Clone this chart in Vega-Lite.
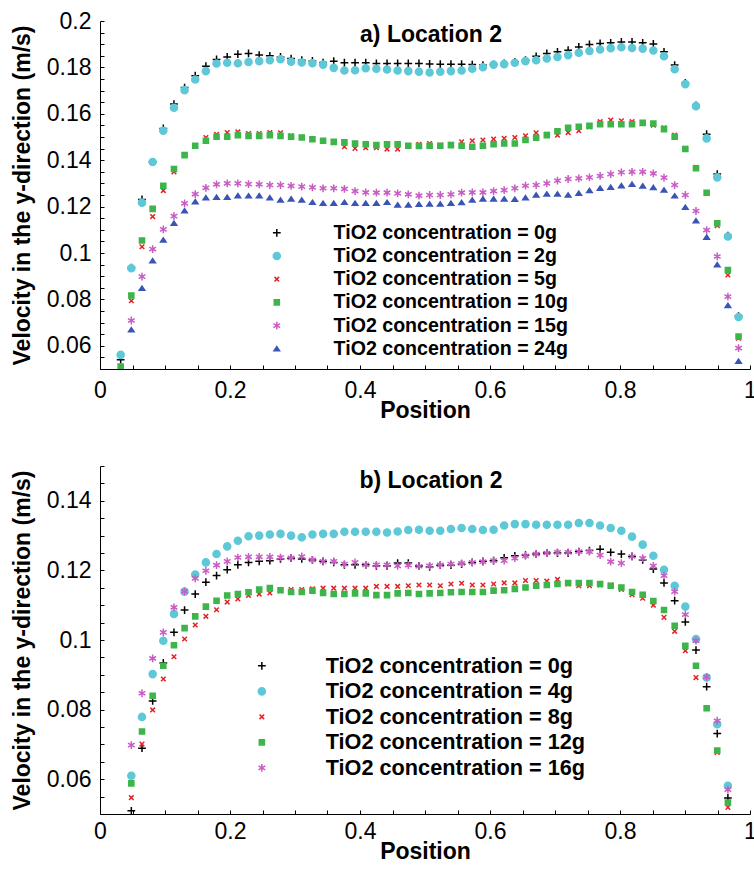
{
"$schema": "https://vega.github.io/schema/vega-lite/v6.json",
"background": "white",
"padding": {"left": 11, "top": 10, "right": 0, "bottom": 0},
"spacing": 33,
"config": {"view": {"stroke": null}, "font": "Liberation Sans",
 "axis": {"grid": false, "domainColor": "black", "domainWidth": 1, "tickColor": "black", "tickWidth": 1, "tickSize": -4, "labelColor": "black", "labelFontSize": 23, "labelFont": "Liberation Sans", "labelOverlap": false, "labelFlush": false, "titleColor": "black", "titleFontSize": 23, "titleFontWeight": "bold", "titleFont": "Liberation Sans"},
 "legend": {"orient": "none", "title": null, "labelFont": "Liberation Sans", "labelFontWeight": "bold", "labelColor": "black", "labelLimit": 500, "symbolStrokeWidth": 1.5, "symbolSize": 50, "padding": 0}
},
"resolve": {"scale": {"color": "independent", "shape": "independent", "stroke": "independent"}, "legend": {"color": "independent", "shape": "independent", "stroke": "independent"}},
"datasets": {
"a": [
{"c":"0g","x":0.0318,"v":0.054},{"c":"0g","x":0.0482,"v":0.0937},{"c":"0g","x":0.0646,"v":0.1231},{"c":"0g","x":0.081,"v":0.1393},{"c":"0g","x":0.0974,"v":0.1537},{"c":"0g","x":0.1138,"v":0.1642},{"c":"0g","x":0.1301,"v":0.1713},{"c":"0g","x":0.1465,"v":0.1764},{"c":"0g","x":0.1629,"v":0.1805},{"c":"0g","x":0.1793,"v":0.1834},{"c":"0g","x":0.1957,"v":0.1845},{"c":"0g","x":0.2121,"v":0.1857},{"c":"0g","x":0.2285,"v":0.186},{"c":"0g","x":0.2449,"v":0.1853},{"c":"0g","x":0.2613,"v":0.185},{"c":"0g","x":0.2777,"v":0.1845},{"c":"0g","x":0.294,"v":0.1838},{"c":"0g","x":0.3104,"v":0.1831},{"c":"0g","x":0.3268,"v":0.1828},{"c":"0g","x":0.3432,"v":0.1821},{"c":"0g","x":0.3596,"v":0.1827},{"c":"0g","x":0.376,"v":0.182},{"c":"0g","x":0.3924,"v":0.182},{"c":"0g","x":0.4088,"v":0.182},{"c":"0g","x":0.4252,"v":0.1817},{"c":"0g","x":0.4416,"v":0.1817},{"c":"0g","x":0.4579,"v":0.1817},{"c":"0g","x":0.4743,"v":0.1817},{"c":"0g","x":0.4907,"v":0.1817},{"c":"0g","x":0.5071,"v":0.1815},{"c":"0g","x":0.5235,"v":0.1814},{"c":"0g","x":0.5399,"v":0.1814},{"c":"0g","x":0.5563,"v":0.1814},{"c":"0g","x":0.5727,"v":0.1812},{"c":"0g","x":0.5891,"v":0.181},{"c":"0g","x":0.6055,"v":0.1812},{"c":"0g","x":0.6218,"v":0.1817},{"c":"0g","x":0.6382,"v":0.1824},{"c":"0g","x":0.6546,"v":0.1831},{"c":"0g","x":0.671,"v":0.1848},{"c":"0g","x":0.6874,"v":0.186},{"c":"0g","x":0.7038,"v":0.1867},{"c":"0g","x":0.7202,"v":0.1874},{"c":"0g","x":0.7366,"v":0.1888},{"c":"0g","x":0.753,"v":0.1899},{"c":"0g","x":0.7694,"v":0.1903},{"c":"0g","x":0.7857,"v":0.1906},{"c":"0g","x":0.8021,"v":0.191},{"c":"0g","x":0.8185,"v":0.191},{"c":"0g","x":0.8349,"v":0.1906},{"c":"0g","x":0.8513,"v":0.1901},{"c":"0g","x":0.8677,"v":0.1867},{"c":"0g","x":0.8841,"v":0.181},{"c":"0g","x":0.9005,"v":0.1733},{"c":"0g","x":0.9169,"v":0.1636},{"c":"0g","x":0.9333,"v":0.1512},{"c":"0g","x":0.9496,"v":0.134},{"c":"0g","x":0.966,"v":0.1075},{"c":"0g","x":0.9824,"v":0.0728},
{"c":"2g","x":0.0318,"v":0.0561},{"c":"2g","x":0.0482,"v":0.0934},{"c":"2g","x":0.0646,"v":0.1217},{"c":"2g","x":0.081,"v":0.1392},{"c":"2g","x":0.0974,"v":0.1527},{"c":"2g","x":0.1138,"v":0.1626},{"c":"2g","x":0.1301,"v":0.1702},{"c":"2g","x":0.1465,"v":0.1748},{"c":"2g","x":0.1629,"v":0.1784},{"c":"2g","x":0.1793,"v":0.1817},{"c":"2g","x":0.1957,"v":0.182},{"c":"2g","x":0.2121,"v":0.1818},{"c":"2g","x":0.2285,"v":0.1823},{"c":"2g","x":0.2449,"v":0.1827},{"c":"2g","x":0.2613,"v":0.1831},{"c":"2g","x":0.2777,"v":0.1835},{"c":"2g","x":0.294,"v":0.1824},{"c":"2g","x":0.3104,"v":0.1821},{"c":"2g","x":0.3268,"v":0.1818},{"c":"2g","x":0.3432,"v":0.1812},{"c":"2g","x":0.3596,"v":0.1798},{"c":"2g","x":0.376,"v":0.1787},{"c":"2g","x":0.3924,"v":0.1788},{"c":"2g","x":0.4088,"v":0.1796},{"c":"2g","x":0.4252,"v":0.1794},{"c":"2g","x":0.4416,"v":0.1791},{"c":"2g","x":0.4579,"v":0.1787},{"c":"2g","x":0.4743,"v":0.1784},{"c":"2g","x":0.4907,"v":0.1781},{"c":"2g","x":0.5071,"v":0.1778},{"c":"2g","x":0.5235,"v":0.1781},{"c":"2g","x":0.5399,"v":0.1784},{"c":"2g","x":0.5563,"v":0.1787},{"c":"2g","x":0.5727,"v":0.1794},{"c":"2g","x":0.5891,"v":0.1801},{"c":"2g","x":0.6055,"v":0.1812},{"c":"2g","x":0.6218,"v":0.1814},{"c":"2g","x":0.6382,"v":0.182},{"c":"2g","x":0.6546,"v":0.1827},{"c":"2g","x":0.671,"v":0.1831},{"c":"2g","x":0.6874,"v":0.1838},{"c":"2g","x":0.7038,"v":0.1845},{"c":"2g","x":0.7202,"v":0.1853},{"c":"2g","x":0.7366,"v":0.1863},{"c":"2g","x":0.753,"v":0.1871},{"c":"2g","x":0.7694,"v":0.1877},{"c":"2g","x":0.7857,"v":0.1883},{"c":"2g","x":0.8021,"v":0.1887},{"c":"2g","x":0.8185,"v":0.1884},{"c":"2g","x":0.8349,"v":0.1881},{"c":"2g","x":0.8513,"v":0.1873},{"c":"2g","x":0.8677,"v":0.1848},{"c":"2g","x":0.8841,"v":0.1792},{"c":"2g","x":0.9005,"v":0.1728},{"c":"2g","x":0.9169,"v":0.1633},{"c":"2g","x":0.9333,"v":0.1494},{"c":"2g","x":0.9496,"v":0.1326},{"c":"2g","x":0.966,"v":0.1071},{"c":"2g","x":0.9824,"v":0.0724},
{"c":"5g","x":0.0482,"v":0.0794},{"c":"5g","x":0.0646,"v":0.1027},{"c":"5g","x":0.081,"v":0.1157},{"c":"5g","x":0.0974,"v":0.1269},{"c":"5g","x":0.1138,"v":0.135},{"c":"5g","x":0.1301,"v":0.1422},{"c":"5g","x":0.1465,"v":0.1462},{"c":"5g","x":0.1629,"v":0.1498},{"c":"5g","x":0.1793,"v":0.1511},{"c":"5g","x":0.1957,"v":0.1519},{"c":"5g","x":0.2121,"v":0.1522},{"c":"5g","x":0.2285,"v":0.1515},{"c":"5g","x":0.2449,"v":0.1515},{"c":"5g","x":0.2613,"v":0.1519},{"c":"5g","x":0.2777,"v":0.1518},{"c":"5g","x":0.294,"v":0.1505},{"c":"5g","x":0.3104,"v":0.1498},{"c":"5g","x":0.3268,"v":0.1491},{"c":"5g","x":0.3432,"v":0.1484},{"c":"5g","x":0.3596,"v":0.1477},{"c":"5g","x":0.376,"v":0.1458},{"c":"5g","x":0.3924,"v":0.1451},{"c":"5g","x":0.4088,"v":0.1454},{"c":"5g","x":0.4252,"v":0.1454},{"c":"5g","x":0.4416,"v":0.1448},{"c":"5g","x":0.4579,"v":0.1448},{"c":"5g","x":0.4743,"v":0.1462},{"c":"5g","x":0.4907,"v":0.1468},{"c":"5g","x":0.5071,"v":0.1472},{"c":"5g","x":0.5235,"v":0.1465},{"c":"5g","x":0.5399,"v":0.1468},{"c":"5g","x":0.5563,"v":0.1479},{"c":"5g","x":0.5727,"v":0.1484},{"c":"5g","x":0.5891,"v":0.1487},{"c":"5g","x":0.6055,"v":0.1491},{"c":"5g","x":0.6218,"v":0.1494},{"c":"5g","x":0.6382,"v":0.1498},{"c":"5g","x":0.6546,"v":0.1505},{"c":"5g","x":0.671,"v":0.1518},{"c":"5g","x":0.6874,"v":0.1512},{"c":"5g","x":0.7038,"v":0.1508},{"c":"5g","x":0.7202,"v":0.1519},{"c":"5g","x":0.7366,"v":0.1527},{"c":"5g","x":0.753,"v":0.1544},{"c":"5g","x":0.7694,"v":0.1566},{"c":"5g","x":0.7857,"v":0.1573},{"c":"5g","x":0.8021,"v":0.157},{"c":"5g","x":0.8185,"v":0.1566},{"c":"5g","x":0.8349,"v":0.1561},{"c":"5g","x":0.8513,"v":0.1551},{"c":"5g","x":0.8677,"v":0.154},{"c":"5g","x":0.8841,"v":0.1508},{"c":"5g","x":0.9005,"v":0.1451},{"c":"5g","x":0.9169,"v":0.1369},{"c":"5g","x":0.9333,"v":0.1257},{"c":"5g","x":0.9496,"v":0.1118},{"c":"5g","x":0.966,"v":0.0905},{"c":"5g","x":0.9824,"v":0.0633},
{"c":"10g","x":0.0318,"v":0.0511},{"c":"10g","x":0.0482,"v":0.0817},{"c":"10g","x":0.0646,"v":0.1054},{"c":"10g","x":0.081,"v":0.119},{"c":"10g","x":0.0974,"v":0.129},{"c":"10g","x":0.1138,"v":0.1362},{"c":"10g","x":0.1301,"v":0.1422},{"c":"10g","x":0.1465,"v":0.1462},{"c":"10g","x":0.1629,"v":0.1484},{"c":"10g","x":0.1793,"v":0.1501},{"c":"10g","x":0.1957,"v":0.1501},{"c":"10g","x":0.2121,"v":0.1508},{"c":"10g","x":0.2285,"v":0.1505},{"c":"10g","x":0.2449,"v":0.1505},{"c":"10g","x":0.2613,"v":0.1508},{"c":"10g","x":0.2777,"v":0.1505},{"c":"10g","x":0.294,"v":0.1501},{"c":"10g","x":0.3104,"v":0.1498},{"c":"10g","x":0.3268,"v":0.149},{"c":"10g","x":0.3432,"v":0.1484},{"c":"10g","x":0.3596,"v":0.1479},{"c":"10g","x":0.376,"v":0.1477},{"c":"10g","x":0.3924,"v":0.1472},{"c":"10g","x":0.4088,"v":0.1469},{"c":"10g","x":0.4252,"v":0.1465},{"c":"10g","x":0.4416,"v":0.1469},{"c":"10g","x":0.4579,"v":0.1469},{"c":"10g","x":0.4743,"v":0.1462},{"c":"10g","x":0.4907,"v":0.1461},{"c":"10g","x":0.5071,"v":0.1462},{"c":"10g","x":0.5235,"v":0.1462},{"c":"10g","x":0.5399,"v":0.1465},{"c":"10g","x":0.5563,"v":0.1462},{"c":"10g","x":0.5727,"v":0.1458},{"c":"10g","x":0.5891,"v":0.1462},{"c":"10g","x":0.6055,"v":0.1469},{"c":"10g","x":0.6218,"v":0.1472},{"c":"10g","x":0.6382,"v":0.1472},{"c":"10g","x":0.6546,"v":0.1487},{"c":"10g","x":0.671,"v":0.1497},{"c":"10g","x":0.6874,"v":0.1508},{"c":"10g","x":0.7038,"v":0.1525},{"c":"10g","x":0.7202,"v":0.154},{"c":"10g","x":0.7366,"v":0.1544},{"c":"10g","x":0.753,"v":0.1548},{"c":"10g","x":0.7694,"v":0.1555},{"c":"10g","x":0.7857,"v":0.1555},{"c":"10g","x":0.8021,"v":0.1555},{"c":"10g","x":0.8185,"v":0.1555},{"c":"10g","x":0.8349,"v":0.1561},{"c":"10g","x":0.8513,"v":0.1558},{"c":"10g","x":0.8677,"v":0.1534},{"c":"10g","x":0.8841,"v":0.1501},{"c":"10g","x":0.9005,"v":0.1448},{"c":"10g","x":0.9169,"v":0.1365},{"c":"10g","x":0.9333,"v":0.126},{"c":"10g","x":0.9496,"v":0.1128},{"c":"10g","x":0.966,"v":0.0927},{"c":"10g","x":0.9824,"v":0.064},
{"c":"15g","x":0.0482,"v":0.0709},{"c":"15g","x":0.0646,"v":0.0898},{"c":"15g","x":0.081,"v":0.1017},{"c":"15g","x":0.0974,"v":0.1102},{"c":"15g","x":0.1138,"v":0.1159},{"c":"15g","x":0.1301,"v":0.1214},{"c":"15g","x":0.1465,"v":0.1254},{"c":"15g","x":0.1629,"v":0.1281},{"c":"15g","x":0.1793,"v":0.1296},{"c":"15g","x":0.1957,"v":0.13},{"c":"15g","x":0.2121,"v":0.13},{"c":"15g","x":0.2285,"v":0.1297},{"c":"15g","x":0.2449,"v":0.1296},{"c":"15g","x":0.2613,"v":0.1293},{"c":"15g","x":0.2777,"v":0.1293},{"c":"15g","x":0.294,"v":0.1289},{"c":"15g","x":0.3104,"v":0.1286},{"c":"15g","x":0.3268,"v":0.1283},{"c":"15g","x":0.3432,"v":0.1279},{"c":"15g","x":0.3596,"v":0.1279},{"c":"15g","x":0.376,"v":0.1276},{"c":"15g","x":0.3924,"v":0.1267},{"c":"15g","x":0.4088,"v":0.1261},{"c":"15g","x":0.4252,"v":0.126},{"c":"15g","x":0.4416,"v":0.126},{"c":"15g","x":0.4579,"v":0.1257},{"c":"15g","x":0.4743,"v":0.1253},{"c":"15g","x":0.4907,"v":0.1247},{"c":"15g","x":0.5071,"v":0.125},{"c":"15g","x":0.5235,"v":0.125},{"c":"15g","x":0.5399,"v":0.1253},{"c":"15g","x":0.5563,"v":0.126},{"c":"15g","x":0.5727,"v":0.1261},{"c":"15g","x":0.5891,"v":0.1261},{"c":"15g","x":0.6055,"v":0.1267},{"c":"15g","x":0.6218,"v":0.1271},{"c":"15g","x":0.6382,"v":0.1279},{"c":"15g","x":0.6546,"v":0.129},{"c":"15g","x":0.671,"v":0.1293},{"c":"15g","x":0.6874,"v":0.13},{"c":"15g","x":0.7038,"v":0.1312},{"c":"15g","x":0.7202,"v":0.1319},{"c":"15g","x":0.7366,"v":0.1322},{"c":"15g","x":0.753,"v":0.1326},{"c":"15g","x":0.7694,"v":0.1332},{"c":"15g","x":0.7857,"v":0.134},{"c":"15g","x":0.8021,"v":0.1348},{"c":"15g","x":0.8185,"v":0.135},{"c":"15g","x":0.8349,"v":0.135},{"c":"15g","x":0.8513,"v":0.1343},{"c":"15g","x":0.8677,"v":0.1325},{"c":"15g","x":0.8841,"v":0.1293},{"c":"15g","x":0.9005,"v":0.125},{"c":"15g","x":0.9169,"v":0.1181},{"c":"15g","x":0.9333,"v":0.1099},{"c":"15g","x":0.9496,"v":0.0985},{"c":"15g","x":0.966,"v":0.0812},{"c":"15g","x":0.9824,"v":0.059},
{"c":"24g","x":0.0482,"v":0.0669},{"c":"24g","x":0.0646,"v":0.0848},{"c":"24g","x":0.081,"v":0.0966},{"c":"24g","x":0.0974,"v":0.1056},{"c":"24g","x":0.1138,"v":0.1128},{"c":"24g","x":0.1301,"v":0.1182},{"c":"24g","x":0.1465,"v":0.1221},{"c":"24g","x":0.1629,"v":0.1238},{"c":"24g","x":0.1793,"v":0.124},{"c":"24g","x":0.1957,"v":0.124},{"c":"24g","x":0.2121,"v":0.1247},{"c":"24g","x":0.2285,"v":0.1246},{"c":"24g","x":0.2449,"v":0.1247},{"c":"24g","x":0.2613,"v":0.1238},{"c":"24g","x":0.2777,"v":0.1228},{"c":"24g","x":0.294,"v":0.1233},{"c":"24g","x":0.3104,"v":0.1228},{"c":"24g","x":0.3268,"v":0.1218},{"c":"24g","x":0.3432,"v":0.1214},{"c":"24g","x":0.3596,"v":0.1214},{"c":"24g","x":0.376,"v":0.1218},{"c":"24g","x":0.3924,"v":0.1214},{"c":"24g","x":0.4088,"v":0.1214},{"c":"24g","x":0.4252,"v":0.1214},{"c":"24g","x":0.4416,"v":0.1218},{"c":"24g","x":0.4579,"v":0.1207},{"c":"24g","x":0.4743,"v":0.1207},{"c":"24g","x":0.4907,"v":0.121},{"c":"24g","x":0.5071,"v":0.1211},{"c":"24g","x":0.5235,"v":0.1211},{"c":"24g","x":0.5399,"v":0.1214},{"c":"24g","x":0.5563,"v":0.1217},{"c":"24g","x":0.5727,"v":0.1228},{"c":"24g","x":0.5891,"v":0.1233},{"c":"24g","x":0.6055,"v":0.1233},{"c":"24g","x":0.6218,"v":0.1233},{"c":"24g","x":0.6382,"v":0.1231},{"c":"24g","x":0.6546,"v":0.1238},{"c":"24g","x":0.671,"v":0.125},{"c":"24g","x":0.6874,"v":0.1254},{"c":"24g","x":0.7038,"v":0.1254},{"c":"24g","x":0.7202,"v":0.125},{"c":"24g","x":0.7366,"v":0.1257},{"c":"24g","x":0.753,"v":0.1269},{"c":"24g","x":0.7694,"v":0.1279},{"c":"24g","x":0.7857,"v":0.1283},{"c":"24g","x":0.8021,"v":0.129},{"c":"24g","x":0.8185,"v":0.1296},{"c":"24g","x":0.8349,"v":0.1289},{"c":"24g","x":0.8513,"v":0.1282},{"c":"24g","x":0.8677,"v":0.1271},{"c":"24g","x":0.8841,"v":0.1246},{"c":"24g","x":0.9005,"v":0.1197},{"c":"24g","x":0.9169,"v":0.1139},{"c":"24g","x":0.9333,"v":0.1068},{"c":"24g","x":0.9496,"v":0.0949},{"c":"24g","x":0.966,"v":0.0774},{"c":"24g","x":0.9824,"v":0.0533}
],
"b": [
{"c":"0g","x":0.0482,"v":0.0509},{"c":"0g","x":0.0646,"v":0.0689},{"c":"0g","x":0.081,"v":0.0825},{"c":"0g","x":0.0974,"v":0.0934},{"c":"0g","x":0.1138,"v":0.1022},{"c":"0g","x":0.1301,"v":0.1086},{"c":"0g","x":0.1465,"v":0.1132},{"c":"0g","x":0.1629,"v":0.1166},{"c":"0g","x":0.1793,"v":0.1185},{"c":"0g","x":0.1957,"v":0.1202},{"c":"0g","x":0.2121,"v":0.1216},{"c":"0g","x":0.2285,"v":0.1223},{"c":"0g","x":0.2449,"v":0.1226},{"c":"0g","x":0.2613,"v":0.1228},{"c":"0g","x":0.2777,"v":0.1233},{"c":"0g","x":0.294,"v":0.1235},{"c":"0g","x":0.3104,"v":0.1233},{"c":"0g","x":0.3268,"v":0.123},{"c":"0g","x":0.3432,"v":0.1226},{"c":"0g","x":0.3596,"v":0.1223},{"c":"0g","x":0.376,"v":0.1216},{"c":"0g","x":0.3924,"v":0.1216},{"c":"0g","x":0.4088,"v":0.1216},{"c":"0g","x":0.4252,"v":0.1213},{"c":"0g","x":0.4416,"v":0.1213},{"c":"0g","x":0.4579,"v":0.1221},{"c":"0g","x":0.4743,"v":0.1221},{"c":"0g","x":0.4907,"v":0.1213},{"c":"0g","x":0.5071,"v":0.121},{"c":"0g","x":0.5235,"v":0.1215},{"c":"0g","x":0.5399,"v":0.1215},{"c":"0g","x":0.5563,"v":0.1218},{"c":"0g","x":0.5727,"v":0.1223},{"c":"0g","x":0.5891,"v":0.1226},{"c":"0g","x":0.6055,"v":0.1228},{"c":"0g","x":0.6218,"v":0.1236},{"c":"0g","x":0.6382,"v":0.1242},{"c":"0g","x":0.6546,"v":0.1244},{"c":"0g","x":0.671,"v":0.1247},{"c":"0g","x":0.6874,"v":0.125},{"c":"0g","x":0.7038,"v":0.125},{"c":"0g","x":0.7202,"v":0.125},{"c":"0g","x":0.7366,"v":0.1254},{"c":"0g","x":0.753,"v":0.1257},{"c":"0g","x":0.7694,"v":0.1261},{"c":"0g","x":0.7857,"v":0.1252},{"c":"0g","x":0.8021,"v":0.1247},{"c":"0g","x":0.8185,"v":0.124},{"c":"0g","x":0.8349,"v":0.123},{"c":"0g","x":0.8513,"v":0.1204},{"c":"0g","x":0.8677,"v":0.1164},{"c":"0g","x":0.8841,"v":0.1113},{"c":"0g","x":0.9005,"v":0.1052},{"c":"0g","x":0.9169,"v":0.0971},{"c":"0g","x":0.9333,"v":0.0866},{"c":"0g","x":0.9496,"v":0.0731},{"c":"0g","x":0.966,"v":0.0546},
{"c":"4g","x":0.0482,"v":0.061},{"c":"4g","x":0.0646,"v":0.0779},{"c":"4g","x":0.081,"v":0.0902},{"c":"4g","x":0.0974,"v":0.0998},{"c":"4g","x":0.1138,"v":0.1075},{"c":"4g","x":0.1301,"v":0.1139},{"c":"4g","x":0.1465,"v":0.1188},{"c":"4g","x":0.1629,"v":0.1223},{"c":"4g","x":0.1793,"v":0.1247},{"c":"4g","x":0.1957,"v":0.1269},{"c":"4g","x":0.2121,"v":0.1285},{"c":"4g","x":0.2285,"v":0.1298},{"c":"4g","x":0.2449,"v":0.13},{"c":"4g","x":0.2613,"v":0.1303},{"c":"4g","x":0.2777,"v":0.1305},{"c":"4g","x":0.294,"v":0.13},{"c":"4g","x":0.3104,"v":0.1295},{"c":"4g","x":0.3268,"v":0.1303},{"c":"4g","x":0.3432,"v":0.1305},{"c":"4g","x":0.3596,"v":0.1305},{"c":"4g","x":0.376,"v":0.1311},{"c":"4g","x":0.3924,"v":0.1311},{"c":"4g","x":0.4088,"v":0.1311},{"c":"4g","x":0.4252,"v":0.1311},{"c":"4g","x":0.4416,"v":0.1309},{"c":"4g","x":0.4579,"v":0.1312},{"c":"4g","x":0.4743,"v":0.1316},{"c":"4g","x":0.4907,"v":0.1317},{"c":"4g","x":0.5071,"v":0.1314},{"c":"4g","x":0.5235,"v":0.1314},{"c":"4g","x":0.5399,"v":0.1319},{"c":"4g","x":0.5563,"v":0.1322},{"c":"4g","x":0.5727,"v":0.1319},{"c":"4g","x":0.5891,"v":0.1316},{"c":"4g","x":0.6055,"v":0.1317},{"c":"4g","x":0.6218,"v":0.1329},{"c":"4g","x":0.6382,"v":0.1333},{"c":"4g","x":0.6546,"v":0.1333},{"c":"4g","x":0.671,"v":0.1331},{"c":"4g","x":0.6874,"v":0.1331},{"c":"4g","x":0.7038,"v":0.1331},{"c":"4g","x":0.7202,"v":0.1331},{"c":"4g","x":0.7366,"v":0.1336},{"c":"4g","x":0.753,"v":0.1336},{"c":"4g","x":0.7694,"v":0.1329},{"c":"4g","x":0.7857,"v":0.1322},{"c":"4g","x":0.8021,"v":0.1314},{"c":"4g","x":0.8185,"v":0.1297},{"c":"4g","x":0.8349,"v":0.1274},{"c":"4g","x":0.8513,"v":0.1242},{"c":"4g","x":0.8677,"v":0.1202},{"c":"4g","x":0.8841,"v":0.1156},{"c":"4g","x":0.9005,"v":0.1096},{"c":"4g","x":0.9169,"v":0.1003},{"c":"4g","x":0.9333,"v":0.0892},{"c":"4g","x":0.9496,"v":0.0758},{"c":"4g","x":0.966,"v":0.0581},
{"c":"8g","x":0.0482,"v":0.0547},{"c":"8g","x":0.0646,"v":0.0701},{"c":"8g","x":0.081,"v":0.0799},{"c":"8g","x":0.0974,"v":0.0888},{"c":"8g","x":0.1138,"v":0.0952},{"c":"8g","x":0.1301,"v":0.1003},{"c":"8g","x":0.1465,"v":0.1043},{"c":"8g","x":0.1629,"v":0.1068},{"c":"8g","x":0.1793,"v":0.1087},{"c":"8g","x":0.1957,"v":0.1109},{"c":"8g","x":0.2121,"v":0.1118},{"c":"8g","x":0.2285,"v":0.1128},{"c":"8g","x":0.2449,"v":0.1132},{"c":"8g","x":0.2613,"v":0.1135},{"c":"8g","x":0.2777,"v":0.1142},{"c":"8g","x":0.294,"v":0.1145},{"c":"8g","x":0.3104,"v":0.1145},{"c":"8g","x":0.3268,"v":0.1147},{"c":"8g","x":0.3432,"v":0.1149},{"c":"8g","x":0.3596,"v":0.1149},{"c":"8g","x":0.376,"v":0.1149},{"c":"8g","x":0.3924,"v":0.1149},{"c":"8g","x":0.4088,"v":0.1149},{"c":"8g","x":0.4252,"v":0.1154},{"c":"8g","x":0.4416,"v":0.1154},{"c":"8g","x":0.4579,"v":0.1154},{"c":"8g","x":0.4743,"v":0.1156},{"c":"8g","x":0.4907,"v":0.1158},{"c":"8g","x":0.5071,"v":0.1158},{"c":"8g","x":0.5235,"v":0.1156},{"c":"8g","x":0.5399,"v":0.1161},{"c":"8g","x":0.5563,"v":0.1163},{"c":"8g","x":0.5727,"v":0.1158},{"c":"8g","x":0.5891,"v":0.1158},{"c":"8g","x":0.6055,"v":0.1161},{"c":"8g","x":0.6218,"v":0.1164},{"c":"8g","x":0.6382,"v":0.1164},{"c":"8g","x":0.6546,"v":0.1171},{"c":"8g","x":0.671,"v":0.1171},{"c":"8g","x":0.6874,"v":0.1169},{"c":"8g","x":0.7038,"v":0.1174},{"c":"8g","x":0.7202,"v":0.1161},{"c":"8g","x":0.7366,"v":0.1156},{"c":"8g","x":0.753,"v":0.1156},{"c":"8g","x":0.7694,"v":0.1158},{"c":"8g","x":0.7857,"v":0.1158},{"c":"8g","x":0.8021,"v":0.1145},{"c":"8g","x":0.8185,"v":0.113},{"c":"8g","x":0.8349,"v":0.112},{"c":"8g","x":0.8513,"v":0.11},{"c":"8g","x":0.8677,"v":0.1065},{"c":"8g","x":0.8841,"v":0.1025},{"c":"8g","x":0.9005,"v":0.0969},{"c":"8g","x":0.9169,"v":0.0892},{"c":"8g","x":0.9333,"v":0.0804},{"c":"8g","x":0.9496,"v":0.0677},{"c":"8g","x":0.966,"v":0.0519},
{"c":"12g","x":0.0482,"v":0.0588},{"c":"12g","x":0.0646,"v":0.0737},{"c":"12g","x":0.081,"v":0.084},{"c":"12g","x":0.0974,"v":0.0926},{"c":"12g","x":0.1138,"v":0.0985},{"c":"12g","x":0.1301,"v":0.1034},{"c":"12g","x":0.1465,"v":0.1068},{"c":"12g","x":0.1629,"v":0.1096},{"c":"12g","x":0.1793,"v":0.1113},{"c":"12g","x":0.1957,"v":0.1128},{"c":"12g","x":0.2121,"v":0.1132},{"c":"12g","x":0.2285,"v":0.1137},{"c":"12g","x":0.2449,"v":0.1145},{"c":"12g","x":0.2613,"v":0.1149},{"c":"12g","x":0.2777,"v":0.1143},{"c":"12g","x":0.294,"v":0.1138},{"c":"12g","x":0.3104,"v":0.1138},{"c":"12g","x":0.3268,"v":0.1142},{"c":"12g","x":0.3432,"v":0.1135},{"c":"12g","x":0.3596,"v":0.1132},{"c":"12g","x":0.376,"v":0.1132},{"c":"12g","x":0.3924,"v":0.1134},{"c":"12g","x":0.4088,"v":0.1134},{"c":"12g","x":0.4252,"v":0.1129},{"c":"12g","x":0.4416,"v":0.1129},{"c":"12g","x":0.4579,"v":0.1134},{"c":"12g","x":0.4743,"v":0.1135},{"c":"12g","x":0.4907,"v":0.1132},{"c":"12g","x":0.5071,"v":0.1134},{"c":"12g","x":0.5235,"v":0.1135},{"c":"12g","x":0.5399,"v":0.1137},{"c":"12g","x":0.5563,"v":0.1138},{"c":"12g","x":0.5727,"v":0.1138},{"c":"12g","x":0.5891,"v":0.1138},{"c":"12g","x":0.6055,"v":0.1142},{"c":"12g","x":0.6218,"v":0.1143},{"c":"12g","x":0.6382,"v":0.1147},{"c":"12g","x":0.6546,"v":0.1151},{"c":"12g","x":0.671,"v":0.1156},{"c":"12g","x":0.6874,"v":0.1158},{"c":"12g","x":0.7038,"v":0.1161},{"c":"12g","x":0.7202,"v":0.1164},{"c":"12g","x":0.7366,"v":0.1164},{"c":"12g","x":0.753,"v":0.1164},{"c":"12g","x":0.7694,"v":0.1161},{"c":"12g","x":0.7857,"v":0.1156},{"c":"12g","x":0.8021,"v":0.1151},{"c":"12g","x":0.8185,"v":0.1138},{"c":"12g","x":0.8349,"v":0.113},{"c":"12g","x":0.8513,"v":0.1112},{"c":"12g","x":0.8677,"v":0.1086},{"c":"12g","x":0.8841,"v":0.1041},{"c":"12g","x":0.9005,"v":0.0983},{"c":"12g","x":0.9169,"v":0.0926},{"c":"12g","x":0.9333,"v":0.0804},{"c":"12g","x":0.9496,"v":0.0682},{"c":"12g","x":0.966,"v":0.0533},
{"c":"16g","x":0.0482,"v":0.0698},{"c":"16g","x":0.0646,"v":0.0847},{"c":"16g","x":0.081,"v":0.0947},{"c":"16g","x":0.0974,"v":0.1022},{"c":"16g","x":0.1138,"v":0.1094},{"c":"16g","x":0.1301,"v":0.114},{"c":"16g","x":0.1465,"v":0.1177},{"c":"16g","x":0.1629,"v":0.1199},{"c":"16g","x":0.1793,"v":0.1215},{"c":"16g","x":0.1957,"v":0.1226},{"c":"16g","x":0.2121,"v":0.1237},{"c":"16g","x":0.2285,"v":0.1239},{"c":"16g","x":0.2449,"v":0.1239},{"c":"16g","x":0.2613,"v":0.1239},{"c":"16g","x":0.2777,"v":0.1237},{"c":"16g","x":0.294,"v":0.1236},{"c":"16g","x":0.3104,"v":0.124},{"c":"16g","x":0.3268,"v":0.123},{"c":"16g","x":0.3432,"v":0.1226},{"c":"16g","x":0.3596,"v":0.1226},{"c":"16g","x":0.376,"v":0.1218},{"c":"16g","x":0.3924,"v":0.1223},{"c":"16g","x":0.4088,"v":0.1216},{"c":"16g","x":0.4252,"v":0.1216},{"c":"16g","x":0.4416,"v":0.1216},{"c":"16g","x":0.4579,"v":0.1213},{"c":"16g","x":0.4743,"v":0.1215},{"c":"16g","x":0.4907,"v":0.1212},{"c":"16g","x":0.5071,"v":0.1213},{"c":"16g","x":0.5235,"v":0.1216},{"c":"16g","x":0.5399,"v":0.1218},{"c":"16g","x":0.5563,"v":0.122},{"c":"16g","x":0.5727,"v":0.1223},{"c":"16g","x":0.5891,"v":0.1225},{"c":"16g","x":0.6055,"v":0.1228},{"c":"16g","x":0.6218,"v":0.1228},{"c":"16g","x":0.6382,"v":0.1235},{"c":"16g","x":0.6546,"v":0.1242},{"c":"16g","x":0.671,"v":0.1247},{"c":"16g","x":0.6874,"v":0.125},{"c":"16g","x":0.7038,"v":0.1252},{"c":"16g","x":0.7202,"v":0.1252},{"c":"16g","x":0.7366,"v":0.1254},{"c":"16g","x":0.753,"v":0.1254},{"c":"16g","x":0.7694,"v":0.1244},{"c":"16g","x":0.7857,"v":0.1225},{"c":"16g","x":0.8021,"v":0.1221},{"c":"16g","x":0.8185,"v":0.124},{"c":"16g","x":0.8349,"v":0.1235},{"c":"16g","x":0.8513,"v":0.1213},{"c":"16g","x":0.8677,"v":0.1185},{"c":"16g","x":0.8841,"v":0.1139},{"c":"16g","x":0.9005,"v":0.1073},{"c":"16g","x":0.9169,"v":0.0998},{"c":"16g","x":0.9333,"v":0.0894},{"c":"16g","x":0.9496,"v":0.0768},{"c":"16g","x":0.966,"v":0.057}
]
},
"vconcat": [
{
 "width": 650, "height": 348,
 "title": {"text": "a) Location 2", "fontSize": 23, "fontWeight": "bold", "font": "Liberation Sans", "color": "black", "anchor": "middle", "baseline": "alphabetic", "offset": -55, "dx": 6},
 "data": {"name": "a"},
 "mark": {"type": "point", "filled": true, "size": 50, "strokeWidth": 1.5, "opacity": 1, "clip": true},
 "encoding": {
  "x": {"field": "x", "type": "quantitative", "scale": {"domain": [0, 1], "nice": false, "zero": false},
   "axis": {"title": "Position", "titlePadding": -3, "labelPadding": 14, "values": [0,0.05,0.1,0.15,0.2,0.25,0.3,0.35,0.4,0.45,0.5,0.55,0.6,0.65,0.7,0.75,0.8,0.85,0.9,0.95,1], "labelExpr": "abs(datum.value*5 - round(datum.value*5)) < 0.000001 ? format(datum.value, '~g') : ''"}},
  "y": {"field": "v", "type": "quantitative", "scale": {"domain": [0.05, 0.2], "nice": false, "zero": false},
   "axis": {"title": "Velocity in the y-direction (m/s)", "titlePadding": 12, "labelPadding": 13, "values": [0.05,0.055,0.06,0.065,0.07,0.075,0.08,0.085,0.09,0.095,0.1,0.105,0.11,0.115,0.12,0.125,0.13,0.135,0.14,0.145,0.15,0.155,0.16,0.165,0.17,0.175,0.18,0.185,0.19,0.195,0.2], "labelExpr": "abs(datum.value*50 - round(datum.value*50)) < 0.000001 ? format(datum.value, '~g') : ''"}},
  "color": {"field": "c", "type": "nominal", "scale": {"domain": ["0g","2g","5g","10g","15g","24g"], "range": ["#000000","#5EC8D8","#E32227","#3DB54A","#C85BC4","#3A55B5"]},
   "legend": {"legendX": 167, "legendY": 202, "labelFontSize": 19.6, "labelOffset": 47, "rowPadding": 2.2, "labelExpr": "'TiO2 concentration = ' + datum.label"}},
  "stroke": {"field": "c", "type": "nominal", "scale": {"domain": ["0g","2g","5g","10g","15g","24g"], "range": ["#000000","#5EC8D8","#E32227","#3DB54A","#C85BC4","#3A55B5"]},
   "legend": {"legendX": 167, "legendY": 202, "labelFontSize": 19.6, "labelOffset": 47, "rowPadding": 2.2, "labelExpr": "'TiO2 concentration = ' + datum.label"}},
  "shape": {"field": "c", "type": "nominal", "scale": {"domain": ["0g","2g","5g","10g","15g","24g"], "range": ["M-1.1,0H1.1M0,-1.1V1.1","circle","M-0.65,-0.65L0.65,0.65M-0.65,0.65L0.65,-0.65","M-0.72,-0.72H0.72V0.72H-0.72Z","M0,-1.1V1.1M-0.95,-0.55L0.95,0.55M-0.95,0.55L0.95,-0.55","M0,-0.62L0.78,0.55H-0.78Z"]},
   "legend": {"legendX": 167, "legendY": 202, "labelFontSize": 19.6, "labelOffset": 47, "rowPadding": 2.2, "labelExpr": "'TiO2 concentration = ' + datum.label"}}
 }
},
{
 "width": 650, "height": 348,
 "title": {"text": "b) Location 2", "fontSize": 23, "fontWeight": "bold", "font": "Liberation Sans", "color": "black", "anchor": "middle", "baseline": "alphabetic", "offset": -56, "dx": 6},
 "data": {"name": "b"},
 "mark": {"type": "point", "filled": true, "size": 50, "strokeWidth": 1.5, "opacity": 1, "clip": true},
 "encoding": {
  "x": {"field": "x", "type": "quantitative", "scale": {"domain": [0, 1], "nice": false, "zero": false},
   "axis": {"title": "Position", "titlePadding": -3, "labelPadding": 10, "values": [0,0.05,0.1,0.15,0.2,0.25,0.3,0.35,0.4,0.45,0.5,0.55,0.6,0.65,0.7,0.75,0.8,0.85,0.9,0.95,1], "labelExpr": "abs(datum.value*5 - round(datum.value*5)) < 0.000001 ? format(datum.value, '~g') : ''"}},
  "y": {"field": "v", "type": "quantitative", "scale": {"domain": [0.05, 0.15], "nice": false, "zero": false},
   "axis": {"title": "Velocity in the y-direction (m/s)", "titlePadding": 12, "labelPadding": 13, "values": [0.05,0.055,0.06,0.065,0.07,0.075,0.08,0.085,0.09,0.095,0.1,0.105,0.11,0.115,0.12,0.125,0.13,0.135,0.14,0.145,0.15], "labelExpr": "abs(datum.value*50 - round(datum.value*50)) < 0.000001 ? format(datum.value, '~g') : ''"}},
  "color": {"field": "c", "type": "nominal", "scale": {"domain": ["0g","4g","8g","12g","16g"], "range": ["#000000","#5EC8D8","#E32227","#3DB54A","#C85BC4"]},
   "legend": {"legendX": 151, "legendY": 189, "labelFontSize": 21.7, "labelOffset": 53, "rowPadding": 2.5, "labelExpr": "'TiO2 concentration = ' + datum.label"}},
  "stroke": {"field": "c", "type": "nominal", "scale": {"domain": ["0g","4g","8g","12g","16g"], "range": ["#000000","#5EC8D8","#E32227","#3DB54A","#C85BC4"]},
   "legend": {"legendX": 151, "legendY": 189, "labelFontSize": 21.7, "labelOffset": 53, "rowPadding": 2.5, "labelExpr": "'TiO2 concentration = ' + datum.label"}},
  "shape": {"field": "c", "type": "nominal", "scale": {"domain": ["0g","4g","8g","12g","16g"], "range": ["M-1.1,0H1.1M0,-1.1V1.1","circle","M-0.65,-0.65L0.65,0.65M-0.65,0.65L0.65,-0.65","M-0.72,-0.72H0.72V0.72H-0.72Z","M0,-1.1V1.1M-0.95,-0.55L0.95,0.55M-0.95,0.55L0.95,-0.55"]},
   "legend": {"legendX": 151, "legendY": 189, "labelFontSize": 21.7, "labelOffset": 53, "rowPadding": 2.5, "labelExpr": "'TiO2 concentration = ' + datum.label"}}
 }
}
]
}
